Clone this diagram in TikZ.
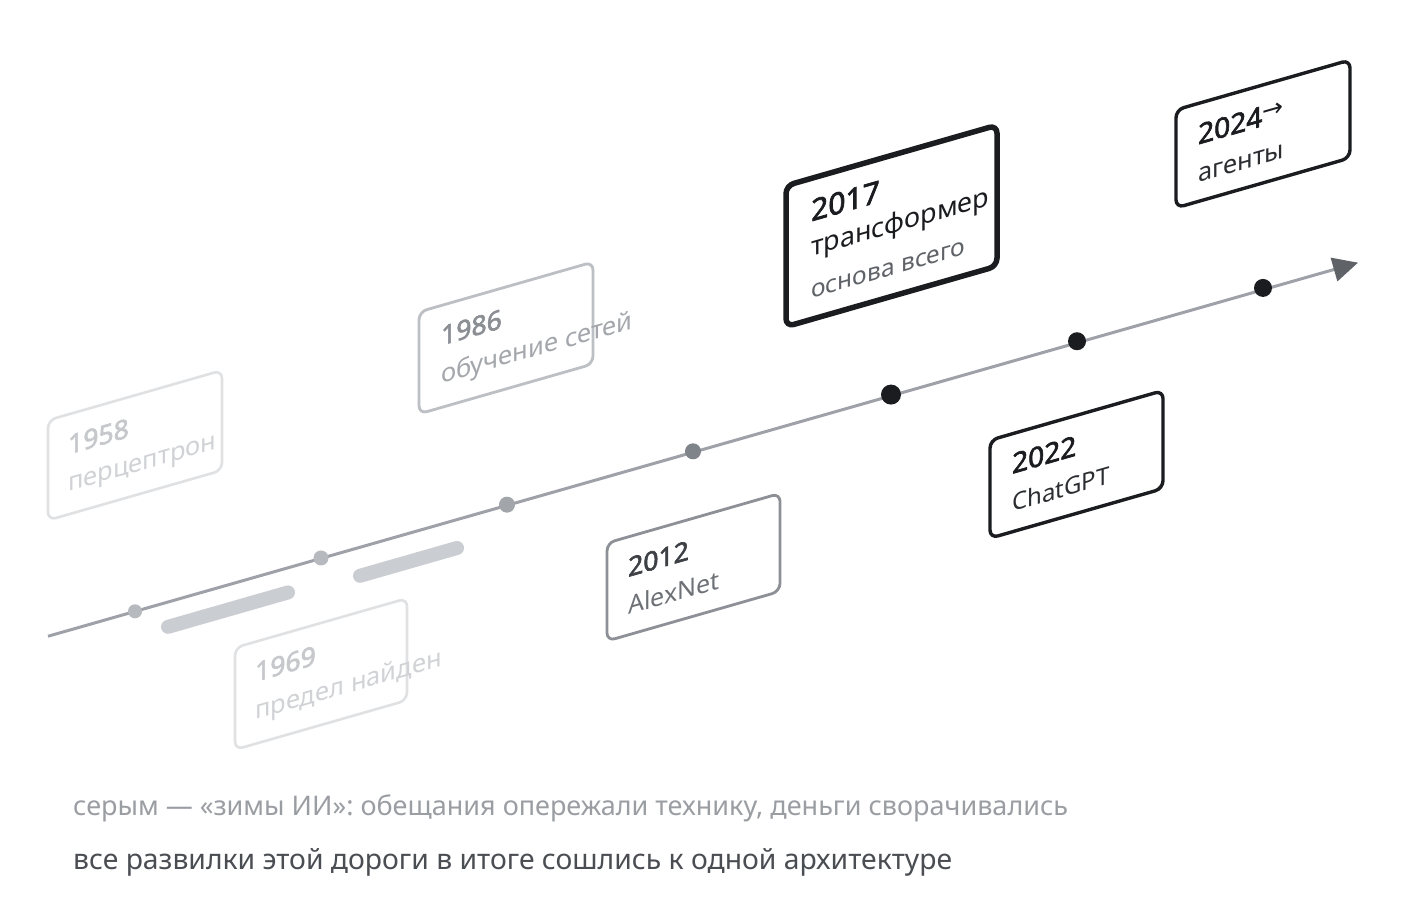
\documentclass[tikz,border=0pt]{standalone}
\usepackage{fontspec}
\setmainfont{Noto Sans}[AutoFakeBold=2.4]
\newfontfamily\arrowfont{DejaVu Sans}
\usetikzlibrary{arrows.meta}
\definecolor{linegray}{HTML}{9EA2A8}
\definecolor{arrowgray}{HTML}{5F6368}
\definecolor{bargray}{HTML}{CACDD1}
\definecolor{ink}{HTML}{1B1C20}
\definecolor{faintstroke}{HTML}{E0E1E3}
\definecolor{faintyear}{HTML}{C6C8CC}
\definecolor{faintsub}{HTML}{D0D2D5}
\definecolor{midstroke}{HTML}{BCBFC3}
\definecolor{midyear}{HTML}{8B8F94}
\definecolor{midsub}{HTML}{A3A6AB}
\definecolor{darkstroke}{HTML}{8D9096}
\definecolor{darkyear}{HTML}{3D4045}
\definecolor{darksub}{HTML}{6E7277}
\definecolor{sub17}{HTML}{5F6368}
\definecolor{sub22}{HTML}{2B2D31}
\definecolor{capgray}{HTML}{9A9DA2}
\definecolor{captext}{HTML}{4A4D52}
\definecolor{dotlight}{HTML}{B6B9BE}
\definecolor{dotmid}{HTML}{A2A6AB}
\definecolor{dotdark}{HTML}{7F838A}
\tikzset{
  card/.style={fill=white, rounded corners=8pt, line width=2.6pt},
  yeartext/.style={anchor=base west, inner sep=0pt, transform shape, font=\bfseries\fontsize{26.5}{30}\selectfont},
  subtext/.style={anchor=base west, inner sep=0pt, transform shape, font=\fontsize{25.5}{28}\selectfont},
  winter/.style={line width=14pt, line cap=round, draw=bargray},
  captionline/.style={anchor=base west, inner sep=0pt}
}
\begin{document}
\begin{tikzpicture}[x=1pt,y=-1pt]
\useasboundingbox[fill=white] (0,0) rectangle (1410,900);
\begin{scope}[yslant=0.2867]
  % winters
  \coordinate (w1a) at (168,675);
  \coordinate (w1b) at (288,675);
  \coordinate (w2a) at (360,679);
  \coordinate (w2b) at (457,679);
  \draw[winter] (w1a) -- (w1b);
  \draw[winter] (w2a) -- (w2b);
  % axis
  \coordinate (ls) at (48,650);
  \coordinate (le) at (1358,652);
  \coordinate (d1) at (135,650);
  \coordinate (d2) at (321,650);
  \coordinate (d3) at (507,650);
  \coordinate (d4) at (693,650);
  \coordinate (d5) at (891,650);
  \coordinate (d6) at (1077,650);
  \coordinate (d7) at (1263,650);
  \draw[draw=linegray, line width=3pt, -{Triangle[length=25pt,width=24pt,color=arrowgray]}] (ls) -- (le);
  % cards
  \draw[card, draw=faintstroke] (48,434) rectangle (222,534);
  \node[yeartext, text=faintyear] (t1958) at (68,474) {1958};
  \node[subtext, text=faintsub] (s1958) at (68,511) {перцептрон};

  \draw[card, draw=faintstroke] (235,715) rectangle (407,817);
  \node[yeartext, text=faintyear] (t1969) at (255,755) {1969};
  \node[subtext, text=faintsub] (s1969) at (255,793) {предел найден};

  \draw[card, draw=midstroke, line width=2.8pt] (419,432) rectangle (593,534);
  \node[yeartext, text=midyear] (t1986) at (441,472) {1986};
  \node[subtext, text=midsub] (s1986) at (441,510) {обучение сетей};

  \draw[card, draw=darkstroke, line width=2.8pt] (607,717) rectangle (780,815);
  \node[yeartext, text=darkyear] (t2012) at (628,757) {2012};
  \node[subtext, text=darksub, font=\fontsize{25}{28}\selectfont] (s2012) at (628,795) {AlexNet};

  \draw[card, draw=ink, line width=5.5pt] (786,411) rectangle (997,552);
  \node[yeartext, text=ink, font=\bfseries\fontsize{30}{34}\selectfont] (t2017) at (811,454) {2017};
  \node[subtext, text=ink, font=\fontsize{27}{30}\selectfont] (s2017) at (811,489) {трансформер};
  \node[subtext, text=sub17, font=\fontsize{24.5}{28}\selectfont] (r2017) at (811,531) {основа всего};

  \draw[card, draw=ink, line width=3.4pt] (990,724) rectangle (1163,822);
  \node[yeartext, text=ink, font=\bfseries\fontsize{28}{32}\selectfont] (t2022) at (1012,764) {2022};
  \node[subtext, text=sub22, font=\fontsize{24}{28}\selectfont] (s2022) at (1012,802) {ChatGPT};

  \draw[card, draw=ink, line width=3.4pt] (1176,447) rectangle (1350,545);
  \node[yeartext, text=ink, font=\bfseries\fontsize{28}{32}\selectfont] (t2024) at (1198,488) {2024{\arrowfont\mdseries\fontsize{25}{28}\selectfont\raisebox{6pt}{→}}};
  \node[subtext, text=sub22] (s2024) at (1198,526) {агенты};
\end{scope}
% dots
\fill[dotlight] (d1) circle (7pt);
\fill[dotlight] (d2) circle (7.5pt);
\fill[dotmid] (d3) circle (8pt);
\fill[dotdark] (d4) circle (8pt);
\fill[ink] (d5) circle (10pt);
\fill[ink] (d6) circle (9pt);
\fill[ink] (d7) circle (9pt);
% captions
\node[captionline, text=capgray, font=\fontsize{27}{32}\selectfont] (cap1) at (73,815) {серым — «зимы ИИ»: обещания опережали технику, деньги сворачивались};
\node[captionline, text=captext, font=\fontsize{28.3}{32}\selectfont] (cap2) at (73,869) {все развилки этой дороги в итоге сошлись к одной архитектуре};
\end{tikzpicture}
\end{document}
